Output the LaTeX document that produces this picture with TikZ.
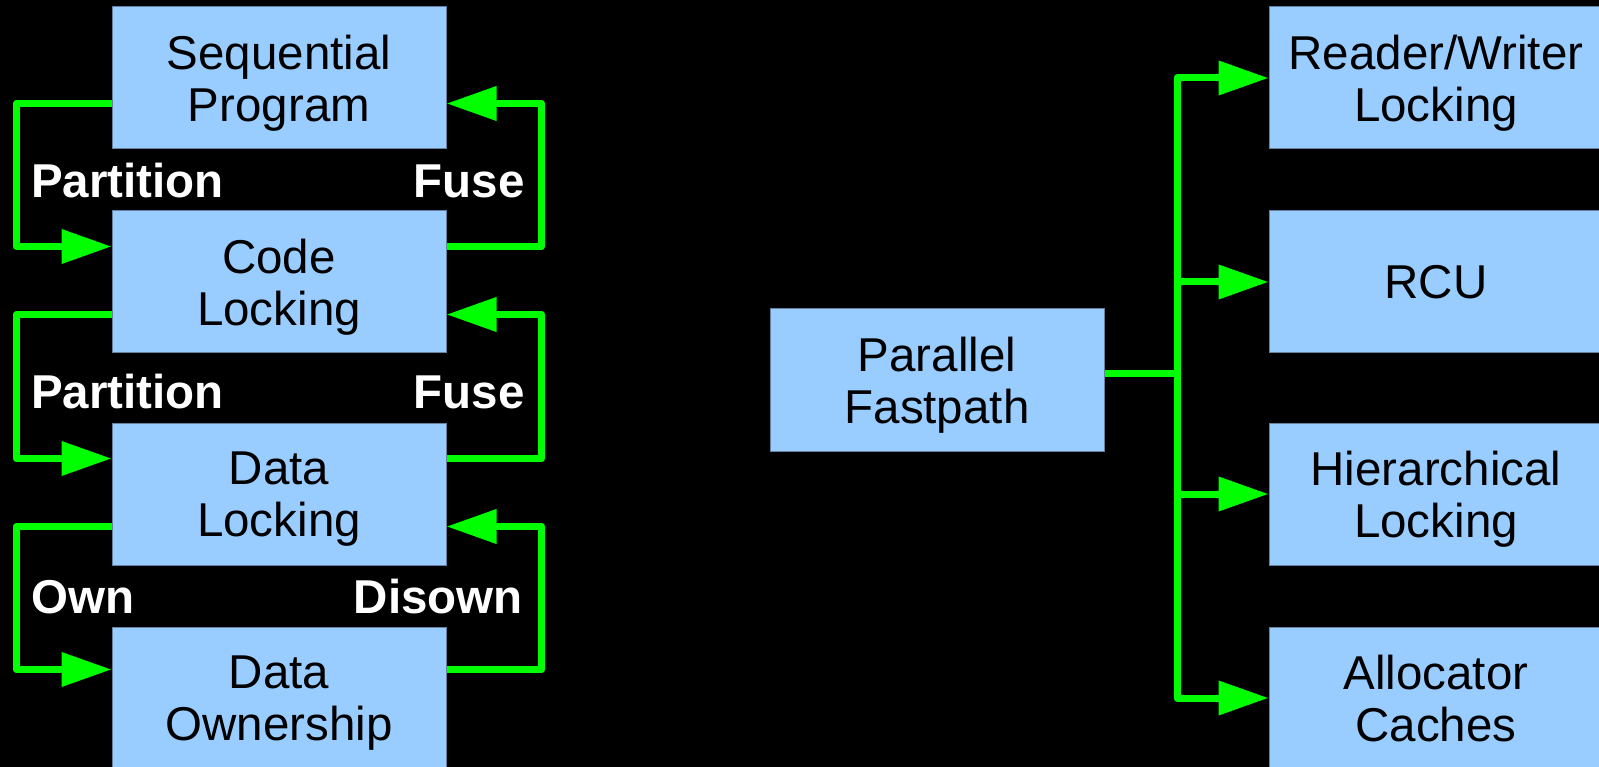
\documentclass[tikz,border=0pt]{standalone}
\usepackage{fontspec}
\setmainfont{Liberation Sans}
\usetikzlibrary{arrows.meta,calc}
\definecolor{boxfill}{HTML}{99CCFF}
\definecolor{boxedge}{RGB}{100,130,160}
\definecolor{gr}{HTML}{00FF00}
\tikzset{
  blk/.style={draw=boxedge, line width=1pt, fill=boxfill, minimum width=334pt, minimum height=142pt,
    inner sep=0pt, align=center, text=black, text depth=0pt, font=\fontsize{47.5pt}{52pt}\selectfont},
  gline/.style={draw=gr, line width=7pt, line join=round},
  conn/.style={gline, -{Triangle[length=50pt,width=33pt]}},
  lbl/.style={text=white, inner sep=0pt, font=\fontsize{47.5pt}{52pt}\selectfont\bfseries}
}
\begin{document}
\begin{tikzpicture}[x=1pt,y=-1pt]
\fill[black] (0,0) rectangle (1599,767);
\useasboundingbox (0,0) rectangle (1599,767);
% left column
\node[blk] (b1) at (279,78) {Sequential\\Program};
\node[blk] (b2) at (279,282) {Code\\Locking};
\node[blk] (b3) at (279,494) {Data\\Locking};
\node[blk] (b4) at (279,698) {Data\\Ownership};
% middle
\node[blk] (pf) at (937,380) {Parallel\\Fastpath};
% right column
\node[blk] (r1) at (1436,78) {Reader/Writer\\Locking};
\node[blk] (r2) at (1436,282) {RCU};
\node[blk] (r3) at (1436,494) {Hierarchical\\Locking};
\node[blk] (r4) at (1436,698) {Allocator\\Caches};
% labels
\node[lbl, anchor=base west] (l1) at (31,198) {Partition};
\node[lbl, anchor=base east] (f1) at (525,198) {Fuse};
\node[lbl, anchor=base west] (l2) at (31,408) {Partition};
\node[lbl, anchor=base east] (f2) at (525,408) {Fuse};
\node[lbl, anchor=base west] (l3) at (31,613) {Own};
\node[lbl, anchor=base east] (f3) at (523,613) {Disown};
% left loops (down)
\draw[conn] ($(b1.north west)+(0,97)$) -- ++(-95.5,0) |- ($(b2.north west)+(0,36)$);
\draw[conn] ($(b2.north west)+(0,104)$) -- ++(-95.5,0) |- ($(b3.north west)+(0,36)$);
\draw[conn] ($(b3.north west)+(0,104)$) -- ++(-95.5,0) |- ($(b4.north west)+(0,43)$);
% right loops (up)
\draw[conn] ($(b2.north east)+(0,36)$) -- ++(95,0) |- ($(b1.north east)+(0,97)$);
\draw[conn] ($(b3.north east)+(0,36)$) -- ++(95,0) |- ($(b2.north east)+(0,104)$);
\draw[conn] ($(b4.north east)+(0,43)$) -- ++(95,0) |- ($(b3.north east)+(0,104)$);
% fan-out
\coordinate (tj) at (1177,374);
\draw[gline] ($(pf.east)+(0,-6)$) -- (tj);
\draw[gline, {Triangle[length=50pt,width=33pt]}-{Triangle[length=50pt,width=33pt]}]
  (r1.west) -- (tj |- r1.west) -- (tj |- r4.west) -- (r4.west);
\draw[conn] (tj |- r2.west) -- (r2.west);
\draw[conn] (tj |- r3.west) -- (r3.west);
\end{tikzpicture}
\end{document}
